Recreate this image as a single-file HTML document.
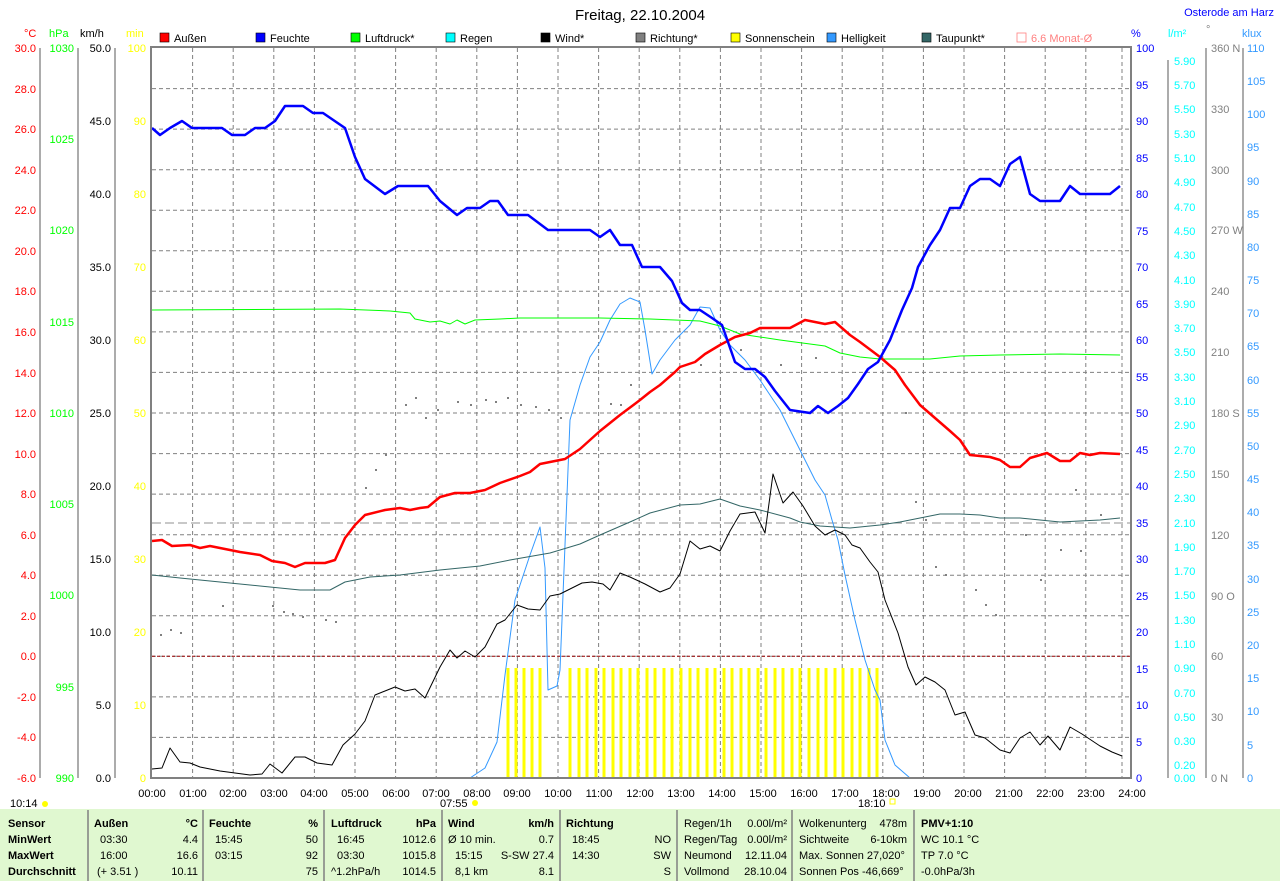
<!DOCTYPE html>
<html><head><meta charset="utf-8"><style>
body{margin:0;background:#fff;}
svg{display:block;font-family:"Liberation Sans",sans-serif;font-size:11px;}
</style></head><body>
<svg width="1280" height="881" viewBox="0 0 1280 881" xmlns="http://www.w3.org/2000/svg">
<rect width="1280" height="881" fill="#fff"/>
<text x="640" y="20" font-size="15" text-anchor="middle">Freitag, 22.10.2004</text>
<text x="1274" y="16" font-size="11" fill="#0000ff" text-anchor="end">Osterode am Harz</text>
<!-- units -->
<g font-size="11">
<text x="24" y="37" fill="#ff0000">°C</text>
<text x="49" y="37" fill="#00ff00">hPa</text>
<text x="80" y="37">km/h</text>
<text x="126" y="37" fill="#ffff00">min</text>
<text x="1131" y="37" fill="#0000ff">%</text>
<text x="1168" y="37" fill="#00ffff">l/m²</text>
<text x="1206" y="33" fill="#808080">°</text>
<text x="1242" y="37" fill="#3399ff">klux</text>
</g>
<!-- legend -->
<g font-size="11">
<rect x="160" y="33" width="9" height="9" fill="#ff0000" stroke="#000" stroke-width="0.6"/><text x="174" y="42">Außen</text>
<rect x="256" y="33" width="9" height="9" fill="#0000ff" stroke="#000" stroke-width="0.6"/><text x="270" y="42">Feuchte</text>
<rect x="351" y="33" width="9" height="9" fill="#00ff00" stroke="#000" stroke-width="0.6"/><text x="365" y="42">Luftdruck*</text>
<rect x="446" y="33" width="9" height="9" fill="#00ffff" stroke="#000" stroke-width="0.6"/><text x="460" y="42">Regen</text>
<rect x="541" y="33" width="9" height="9" fill="#000000" stroke="#000" stroke-width="0.6"/><text x="555" y="42">Wind*</text>
<rect x="636" y="33" width="9" height="9" fill="#808080" stroke="#000" stroke-width="0.6"/><text x="650" y="42">Richtung*</text>
<rect x="731" y="33" width="9" height="9" fill="#ffff00" stroke="#000" stroke-width="0.6"/><text x="745" y="42">Sonnenschein</text>
<rect x="827" y="33" width="9" height="9" fill="#3399ff" stroke="#000" stroke-width="0.6"/><text x="841" y="42">Helligkeit</text>
<rect x="922" y="33" width="9" height="9" fill="#336666" stroke="#000" stroke-width="0.6"/><text x="936" y="42">Taupunkt*</text>
<rect x="1017" y="33" width="9" height="9" fill="none" stroke="#ff8080" stroke-width="0.8"/><text x="1031" y="42" fill="#ff8080">6.6 Monat-Ø</text>
</g>
<!-- grid -->
<g stroke="#808080" stroke-dasharray="4,3" stroke-width="1">
<line x1="192.6" y1="48" x2="192.6" y2="778"/><line x1="233.2" y1="48" x2="233.2" y2="778"/><line x1="273.8" y1="48" x2="273.8" y2="778"/><line x1="314.4" y1="48" x2="314.4" y2="778"/><line x1="355" y1="48" x2="355" y2="778"/><line x1="395.6" y1="48" x2="395.6" y2="778"/><line x1="436.2" y1="48" x2="436.2" y2="778"/><line x1="476.8" y1="48" x2="476.8" y2="778"/><line x1="517.4" y1="48" x2="517.4" y2="778"/><line x1="558" y1="48" x2="558" y2="778"/><line x1="598.6" y1="48" x2="598.6" y2="778"/><line x1="639.2" y1="48" x2="639.2" y2="778"/><line x1="679.8" y1="48" x2="679.8" y2="778"/><line x1="720.4" y1="48" x2="720.4" y2="778"/><line x1="761" y1="48" x2="761" y2="778"/><line x1="801.6" y1="48" x2="801.6" y2="778"/><line x1="842.2" y1="48" x2="842.2" y2="778"/><line x1="882.8" y1="48" x2="882.8" y2="778"/><line x1="923.4" y1="48" x2="923.4" y2="778"/><line x1="964" y1="48" x2="964" y2="778"/><line x1="1004.6" y1="48" x2="1004.6" y2="778"/><line x1="1045.2" y1="48" x2="1045.2" y2="778"/><line x1="1085.8" y1="48" x2="1085.8" y2="778"/><line x1="1122" y1="48" x2="1122" y2="778"/>
<line x1="152" y1="88.6" x2="1131" y2="88.6"/><line x1="152" y1="129.1" x2="1131" y2="129.1"/><line x1="152" y1="169.7" x2="1131" y2="169.7"/><line x1="152" y1="210.2" x2="1131" y2="210.2"/><line x1="152" y1="250.8" x2="1131" y2="250.8"/><line x1="152" y1="291.3" x2="1131" y2="291.3"/><line x1="152" y1="331.9" x2="1131" y2="331.9"/><line x1="152" y1="372.4" x2="1131" y2="372.4"/><line x1="152" y1="413" x2="1131" y2="413"/><line x1="152" y1="453.6" x2="1131" y2="453.6"/><line x1="152" y1="494.1" x2="1131" y2="494.1"/><line x1="152" y1="534.7" x2="1131" y2="534.7"/><line x1="152" y1="575.2" x2="1131" y2="575.2"/><line x1="152" y1="615.8" x2="1131" y2="615.8"/><line x1="152" y1="656.3" x2="1131" y2="656.3"/><line x1="152" y1="696.9" x2="1131" y2="696.9"/><line x1="152" y1="737.4" x2="1131" y2="737.4"/>
</g>
<line x1="152" y1="523" x2="1131" y2="523" stroke="#909090" stroke-dasharray="9,4"/>
<line x1="152" y1="656.3" x2="1131" y2="656.3" stroke="#990000" stroke-dasharray="3,2"/>
<!-- sunshine -->
<g stroke="#ffff00" stroke-width="3">
<line x1="508" y1="668" x2="508" y2="778"/><line x1="516" y1="668" x2="516" y2="778"/><line x1="524" y1="668" x2="524" y2="778"/><line x1="532" y1="668" x2="532" y2="778"/><line x1="540" y1="668" x2="540" y2="778"/>
<line x1="570" y1="668" x2="570" y2="778"/><line x1="579" y1="668" x2="579" y2="778"/><line x1="587" y1="668" x2="587" y2="778"/><line x1="596" y1="668" x2="596" y2="778"/><line x1="604" y1="668" x2="604" y2="778"/><line x1="613" y1="668" x2="613" y2="778"/><line x1="621" y1="668" x2="621" y2="778"/><line x1="630" y1="668" x2="630" y2="778"/><line x1="638" y1="668" x2="638" y2="778"/><line x1="647" y1="668" x2="647" y2="778"/><line x1="655" y1="668" x2="655" y2="778"/><line x1="664" y1="668" x2="664" y2="778"/><line x1="672" y1="668" x2="672" y2="778"/><line x1="681" y1="668" x2="681" y2="778"/><line x1="690" y1="668" x2="690" y2="778"/><line x1="698" y1="668" x2="698" y2="778"/><line x1="707" y1="668" x2="707" y2="778"/><line x1="715" y1="668" x2="715" y2="778"/><line x1="724" y1="668" x2="724" y2="778"/><line x1="732" y1="668" x2="732" y2="778"/><line x1="741" y1="668" x2="741" y2="778"/><line x1="749" y1="668" x2="749" y2="778"/><line x1="758" y1="668" x2="758" y2="778"/><line x1="766" y1="668" x2="766" y2="778"/><line x1="775" y1="668" x2="775" y2="778"/><line x1="783" y1="668" x2="783" y2="778"/><line x1="792" y1="668" x2="792" y2="778"/><line x1="800" y1="668" x2="800" y2="778"/><line x1="809" y1="668" x2="809" y2="778"/><line x1="818" y1="668" x2="818" y2="778"/><line x1="826" y1="668" x2="826" y2="778"/><line x1="835" y1="668" x2="835" y2="778"/><line x1="843" y1="668" x2="843" y2="778"/><line x1="852" y1="668" x2="852" y2="778"/><line x1="860" y1="668" x2="860" y2="778"/><line x1="869" y1="668" x2="869" y2="778"/><line x1="877" y1="668" x2="877" y2="778"/>
</g>
<!-- direction dots -->
<g fill="#808080">
<rect x="160" y="634" width="2" height="2"/><rect x="170" y="629" width="2" height="2"/><rect x="180" y="632" width="2" height="2"/><rect x="222" y="605" width="2" height="2"/><rect x="272" y="605" width="2" height="2"/><rect x="283" y="611" width="2" height="2"/><rect x="292" y="613" width="2" height="2"/><rect x="302" y="616" width="2" height="2"/><rect x="325" y="619" width="2" height="2"/><rect x="335" y="621" width="2" height="2"/><rect x="365" y="487" width="2" height="2"/><rect x="375" y="469" width="2" height="2"/><rect x="385" y="454" width="2" height="2"/><rect x="405" y="404" width="2" height="2"/><rect x="415" y="397" width="2" height="2"/><rect x="425" y="417" width="2" height="2"/><rect x="437" y="409" width="2" height="2"/><rect x="457" y="401" width="2" height="2"/><rect x="470" y="404" width="2" height="2"/><rect x="485" y="399" width="2" height="2"/><rect x="495" y="401" width="2" height="2"/><rect x="507" y="397" width="2" height="2"/><rect x="520" y="404" width="2" height="2"/><rect x="535" y="406" width="2" height="2"/><rect x="548" y="409" width="2" height="2"/><rect x="560" y="417" width="2" height="2"/><rect x="610" y="403" width="2" height="2"/><rect x="620" y="404" width="2" height="2"/><rect x="630" y="384" width="2" height="2"/><rect x="700" y="364" width="2" height="2"/><rect x="740" y="349" width="2" height="2"/><rect x="780" y="364" width="2" height="2"/><rect x="815" y="357" width="2" height="2"/><rect x="905" y="412" width="2" height="2"/><rect x="915" y="501" width="2" height="2"/><rect x="925" y="519" width="2" height="2"/><rect x="935" y="566" width="2" height="2"/><rect x="945" y="574" width="2" height="2"/><rect x="975" y="589" width="2" height="2"/><rect x="985" y="604" width="2" height="2"/><rect x="995" y="614" width="2" height="2"/><rect x="1025" y="534" width="2" height="2"/><rect x="1040" y="579" width="2" height="2"/><rect x="1060" y="549" width="2" height="2"/><rect x="1075" y="489" width="2" height="2"/><rect x="1080" y="550" width="2" height="2"/><rect x="1100" y="514" width="2" height="2"/>
</g>
<g fill="none" stroke-linejoin="round">
<!-- brightness -->
<polyline stroke="#3399ff" stroke-width="1" points="470,778 485,768 497,742 505,675 515,600 530,555 540,527 545,568 548,690 557,686 560,670 570,420 580,385 590,357 600,342 610,320 620,304 630,298 640,302 645,330 652,374 660,360 675,340 690,325 700,307 710,308 720,330 730,345 745,360 760,380 780,410 800,450 815,480 825,495 832,520 838,540 845,575 855,620 865,660 875,690 880,700 885,740 895,765 910,778"/>
<!-- dew point -->
<polyline stroke="#336666" stroke-width="1" points="152,575 180,578 220,582 260,586 300,590 330,590 345,582 370,577 400,575 440,570 480,566 510,560 550,553 580,544 600,535 630,522 650,513 680,505 700,504 720,499 740,506 760,510 790,518 800,522 820,526 850,528 880,525 900,522 920,518 940,514 960,514 980,515 1000,518 1020,518 1040,520 1060,522 1080,521 1100,520 1120,518"/>
<!-- pressure -->
<polyline stroke="#00ff00" stroke-width="1" points="152,310 340,309 390,311 410,313 415,319 430,322 440,321 450,324 457,320 465,324 475,320 500,319 520,318 600,318 650,319 700,321 720,326 740,334 780,340 825,346 840,353 860,357 880,359 930,359 960,356 1000,355 1060,354 1120,355"/>
<!-- wind -->
<polyline stroke="#000" stroke-width="1" points="152,769 162,768 170,748 180,762 190,763 200,767 220,771 250,775 262,774 270,764 282,773 295,757 305,757 317,763 332,765 343,745 355,734 365,721 375,695 385,691 395,687 405,691 415,689 425,698 440,667 450,650 457,658 465,651 475,657 485,647 497,624 505,620 517,605 528,609 540,610 550,596 560,594 568,590 582,583 592,582 603,584 610,590 620,573 630,577 645,584 660,592 670,588 680,574 690,541 700,549 710,546 720,551 730,531 740,514 755,512 765,533 773,474 783,503 793,492 803,506 815,526 825,535 835,530 845,535 852,545 860,548 870,562 878,572 885,600 898,633 908,667 916,685 925,677 935,682 945,690 955,715 965,712 975,735 985,738 1000,750 1010,753 1020,738 1030,732 1040,745 1048,736 1060,750 1070,727 1082,734 1100,746 1112,752 1122,756"/>
<!-- temp -->
<polyline stroke="#ff0000" stroke-width="2.5" points="152,541 162,540 172,546 190,545 200,548 210,546 240,552 260,555 272,561 285,563 295,567 305,563 325,563 335,560 345,538 355,525 365,515 385,510 400,508 410,510 420,508 428,507 440,497 455,493 470,493 485,490 500,483 520,476 530,472 540,464 555,461 565,459 580,449 600,431 620,415 640,400 650,392 660,385 675,372 680,367 695,362 705,354 720,345 735,337 750,333 760,328 790,328 805,320 825,324 835,322 850,335 860,342 880,357 895,370 905,385 920,405 935,418 950,431 960,440 970,455 990,457 1000,460 1010,467 1020,467 1030,458 1047,453 1060,461 1070,461 1080,453 1090,455 1100,453 1120,454"/>
<!-- humidity -->
<polyline stroke="#0000ff" stroke-width="2.5" points="152,128 160,135 170,128 182,121 192,128 222,128 232,135 245,135 255,128 265,128 275,121 285,106 303,106 313,113 323,113 345,128 355,157 365,179 385,194 398,186 428,186 440,201 457,215 467,208 480,208 490,201 498,201 508,215 528,215 548,230 590,230 600,237 610,230 620,245 632,245 642,267 660,267 672,281 682,303 690,310 700,310 712,318 722,325 735,362 745,369 755,369 765,377 775,391 790,410 810,413 818,406 828,413 838,406 848,398 858,384 868,369 878,362 890,340 902,310 912,288 918,267 930,245 940,230 950,208 960,208 970,186 980,179 990,179 1000,186 1010,164 1020,157 1030,194 1040,201 1060,201 1070,186 1080,194 1110,194 1120,186"/>
</g>
<!-- frame -->
<rect x="151" y="47" width="980" height="731" fill="none" stroke="#808080" stroke-width="2"/>
<!-- left axes -->
<g stroke="#808080" stroke-width="1.3">
<line x1="40" y1="48" x2="40" y2="778"/><line x1="78" y1="48" x2="78" y2="778"/><line x1="115" y1="48" x2="115" y2="778"/>
<line x1="1168" y1="60" x2="1168" y2="778"/><line x1="1206" y1="48" x2="1206" y2="778"/><line x1="1243" y1="48" x2="1243" y2="778"/>
</g>
<g font-size="11" fill="#ff0000" text-anchor="end">
<text x="36" y="52">30.0</text><text x="36" y="93">28.0</text><text x="36" y="133">26.0</text><text x="36" y="174">24.0</text><text x="36" y="214">22.0</text><text x="36" y="255">20.0</text><text x="36" y="295">18.0</text><text x="36" y="336">16.0</text><text x="36" y="377">14.0</text><text x="36" y="417">12.0</text><text x="36" y="458">10.0</text><text x="36" y="498">8.0</text><text x="36" y="539">6.0</text><text x="36" y="579">4.0</text><text x="36" y="620">2.0</text><text x="36" y="660">0.0</text><text x="36" y="701">-2.0</text><text x="36" y="741">-4.0</text><text x="36" y="782">-6.0</text>
</g>
<g font-size="11" fill="#00ff00" text-anchor="end">
<text x="74" y="52">1030</text><text x="74" y="143">1025</text><text x="74" y="234">1020</text><text x="74" y="326">1015</text><text x="74" y="417">1010</text><text x="74" y="508">1005</text><text x="74" y="599">1000</text><text x="74" y="691">995</text><text x="74" y="782">990</text>
</g>
<g font-size="11" fill="#000" text-anchor="end">
<text x="111" y="52">50.0</text><text x="111" y="125">45.0</text><text x="111" y="198">40.0</text><text x="111" y="271">35.0</text><text x="111" y="344">30.0</text><text x="111" y="417">25.0</text><text x="111" y="490">20.0</text><text x="111" y="563">15.0</text><text x="111" y="636">10.0</text><text x="111" y="709">5.0</text><text x="111" y="782">0.0</text>
</g>
<g font-size="11" fill="#ffff00" text-anchor="end">
<text x="146" y="52">100</text><text x="146" y="125">90</text><text x="146" y="198">80</text><text x="146" y="271">70</text><text x="146" y="344">60</text><text x="146" y="417">50</text><text x="146" y="490">40</text><text x="146" y="563">30</text><text x="146" y="636">20</text><text x="146" y="709">10</text><text x="146" y="782">0</text>
</g>
<g font-size="11" fill="#0000ff">
<text x="1136" y="52">100</text><text x="1136" y="89">95</text><text x="1136" y="125">90</text><text x="1136" y="162">85</text><text x="1136" y="198">80</text><text x="1136" y="235">75</text><text x="1136" y="271">70</text><text x="1136" y="308">65</text><text x="1136" y="344">60</text><text x="1136" y="381">55</text><text x="1136" y="417">50</text><text x="1136" y="454">45</text><text x="1136" y="490">40</text><text x="1136" y="527">35</text><text x="1136" y="563">30</text><text x="1136" y="600">25</text><text x="1136" y="636">20</text><text x="1136" y="673">15</text><text x="1136" y="709">10</text><text x="1136" y="746">5</text><text x="1136" y="782">0</text>
</g>
<g font-size="11" fill="#00ffff">
<text x="1174" y="65">5.90</text><text x="1174" y="89">5.70</text><text x="1174" y="113">5.50</text><text x="1174" y="138">5.30</text><text x="1174" y="162">5.10</text><text x="1174" y="186">4.90</text><text x="1174" y="211">4.70</text><text x="1174" y="235">4.50</text><text x="1174" y="259">4.30</text><text x="1174" y="284">4.10</text><text x="1174" y="308">3.90</text><text x="1174" y="332">3.70</text><text x="1174" y="356">3.50</text><text x="1174" y="381">3.30</text><text x="1174" y="405">3.10</text><text x="1174" y="429">2.90</text><text x="1174" y="454">2.70</text><text x="1174" y="478">2.50</text><text x="1174" y="502">2.30</text><text x="1174" y="527">2.10</text><text x="1174" y="551">1.90</text><text x="1174" y="575">1.70</text><text x="1174" y="599">1.50</text><text x="1174" y="624">1.30</text><text x="1174" y="648">1.10</text><text x="1174" y="672">0.90</text><text x="1174" y="697">0.70</text><text x="1174" y="721">0.50</text><text x="1174" y="745">0.30</text><text x="1174" y="769">0.20</text><text x="1174" y="782">0.00</text>
</g>
<g font-size="11" fill="#808080">
<text x="1211" y="52">360 N</text><text x="1211" y="113">330</text><text x="1211" y="174">300</text><text x="1211" y="234">270 W</text><text x="1211" y="295">240</text><text x="1211" y="356">210</text><text x="1211" y="417">180 S</text><text x="1211" y="478">150</text><text x="1211" y="539">120</text><text x="1211" y="600">90 O</text><text x="1211" y="660">60</text><text x="1211" y="721">30</text><text x="1211" y="782">0 N</text>
</g>
<g font-size="11" fill="#3399ff">
<text x="1247" y="52">110</text><text x="1247" y="85">105</text><text x="1247" y="118">100</text><text x="1247" y="151">95</text><text x="1247" y="185">90</text><text x="1247" y="218">85</text><text x="1247" y="251">80</text><text x="1247" y="284">75</text><text x="1247" y="317">70</text><text x="1247" y="350">65</text><text x="1247" y="384">60</text><text x="1247" y="417">55</text><text x="1247" y="450">50</text><text x="1247" y="483">45</text><text x="1247" y="516">40</text><text x="1247" y="549">35</text><text x="1247" y="583">30</text><text x="1247" y="616">25</text><text x="1247" y="649">20</text><text x="1247" y="682">15</text><text x="1247" y="715">10</text><text x="1247" y="749">5</text><text x="1247" y="782">0</text>
</g>
<!-- time labels -->
<g font-size="11" text-anchor="middle">
<text x="152" y="797">00:00</text><text x="193" y="797">01:00</text><text x="233" y="797">02:00</text><text x="274" y="797">03:00</text><text x="314" y="797">04:00</text><text x="355" y="797">05:00</text><text x="396" y="797">06:00</text><text x="436" y="797">07:00</text><text x="477" y="797">08:00</text><text x="517" y="797">09:00</text><text x="558" y="797">10:00</text><text x="599" y="797">11:00</text><text x="640" y="797">12:00</text><text x="681" y="797">13:00</text><text x="722" y="797">14:00</text><text x="763" y="797">15:00</text><text x="804" y="797">16:00</text><text x="845" y="797">17:00</text><text x="886" y="797">18:00</text><text x="927" y="797">19:00</text><text x="968" y="797">20:00</text><text x="1009" y="797">21:00</text><text x="1050" y="797">22:00</text><text x="1091" y="797">23:00</text><text x="1132" y="797">24:00</text>
</g>
<text x="10" y="807" font-size="11">10:14</text><circle cx="45" cy="804" r="3" fill="#ffff00"/>
<text x="440" y="807" font-size="11">07:55</text><circle cx="475" cy="803" r="3" fill="#ffff00"/>
<text x="858" y="807" font-size="11">18:10</text><rect x="890" y="799" width="5" height="5" fill="none" stroke="#ffff00"/>
<!-- table -->
<rect x="0" y="809" width="1280" height="72" fill="#e0f8d0"/>
<g stroke="#808080" stroke-width="1.5">
<line x1="88" y1="810" x2="88" y2="881"/><line x1="203" y1="810" x2="203" y2="881"/><line x1="324" y1="810" x2="324" y2="881"/><line x1="442" y1="810" x2="442" y2="881"/><line x1="560" y1="810" x2="560" y2="881"/><line x1="677" y1="810" x2="677" y2="881"/><line x1="792" y1="810" x2="792" y2="881"/><line x1="914" y1="810" x2="914" y2="881"/>
</g>
<g font-size="11">
<g font-weight="bold"><text x="8" y="827">Sensor</text><text x="8" y="843">MinWert</text><text x="8" y="859">MaxWert</text><text x="8" y="875">Durchschnitt</text>
<text x="94" y="827">Außen</text><text x="209" y="827">Feuchte</text><text x="331" y="827">Luftdruck</text><text x="448" y="827">Wind</text><text x="566" y="827">Richtung</text><text x="921" y="827">PMV+1:10</text>
<text x="198" y="827" text-anchor="end">°C</text><text x="318" y="827" text-anchor="end">%</text><text x="436" y="827" text-anchor="end">hPa</text><text x="554" y="827" text-anchor="end">km/h</text></g>
<text x="100" y="843">03:30</text><text x="198" y="843" text-anchor="end">4.4</text>
<text x="100" y="859">16:00</text><text x="198" y="859" text-anchor="end">16.6</text>
<text x="97" y="875">(+ 3.51 )</text><text x="198" y="875" text-anchor="end">10.11</text>
<text x="215" y="843">15:45</text><text x="318" y="843" text-anchor="end">50</text>
<text x="215" y="859">03:15</text><text x="318" y="859" text-anchor="end">92</text>
<text x="318" y="875" text-anchor="end">75</text>
<text x="337" y="843">16:45</text><text x="436" y="843" text-anchor="end">1012.6</text>
<text x="337" y="859">03:30</text><text x="436" y="859" text-anchor="end">1015.8</text>
<text x="331" y="875">^1.2hPa/h</text><text x="436" y="875" text-anchor="end">1014.5</text>
<text x="448" y="843">Ø 10 min.</text><text x="554" y="843" text-anchor="end">0.7</text>
<text x="455" y="859">15:15</text><text x="554" y="859" text-anchor="end">S-SW 27.4</text>
<text x="455" y="875">8,1 km</text><text x="554" y="875" text-anchor="end">8.1</text>
<text x="572" y="843">18:45</text><text x="671" y="843" text-anchor="end">NO</text>
<text x="572" y="859">14:30</text><text x="671" y="859" text-anchor="end">SW</text>
<text x="671" y="875" text-anchor="end">S</text>
<text x="684" y="827">Regen/1h</text><text x="787" y="827" text-anchor="end">0.00l/m²</text>
<text x="684" y="843">Regen/Tag</text><text x="787" y="843" text-anchor="end">0.00l/m²</text>
<text x="684" y="859">Neumond</text><text x="787" y="859" text-anchor="end">12.11.04</text>
<text x="684" y="875">Vollmond</text><text x="787" y="875" text-anchor="end">28.10.04</text>
<text x="799" y="827">Wolkenunterg</text><text x="907" y="827" text-anchor="end">478m</text>
<text x="799" y="843">Sichtweite</text><text x="907" y="843" text-anchor="end">6-10km</text>
<text x="799" y="859">Max. Sonnen 27,020°</text>
<text x="799" y="875">Sonnen Pos  -46,669°</text>
<text x="921" y="843">WC 10.1 °C</text><text x="921" y="859">TP 7.0 °C</text><text x="921" y="875">-0.0hPa/3h</text>
</g>
</svg>
</body></html>
